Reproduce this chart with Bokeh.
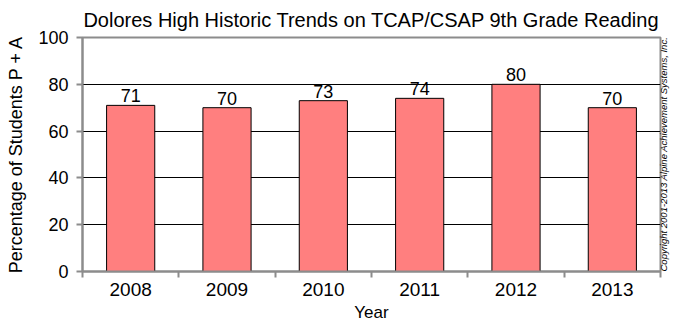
import math
from bokeh.plotting import figure
from bokeh.models import ColumnDataSource, FixedTicker, Range1d, LabelSet, LinearAxis
from bokeh.core.properties import value
from bokeh.embed import file_html
from bokeh.resources import INLINE

years = ["2008", "2009", "2010", "2011", "2012", "2013"]
values = [71, 70, 73, 74, 80, 70]
y_ticks = [0, 20, 40, 60, 80, 100]

xpos = [i + 0.5 for i in range(len(years))]
src = ColumnDataSource(dict(x=xpos, top=values, lbl=[str(v) for v in values]))

FONT = "Liberation Sans"
GRAY = "#8c8c8c"

p = figure(frame_width=578, frame_height=234, output_backend="svg", toolbar_location=None,
           x_range=Range1d(0, len(years)), y_range=Range1d(0, 100),
           min_border_left=82, min_border_top=37, min_border_bottom=58, min_border_right=18)

p.title.text = "Dolores High Historic Trends on TCAP/CSAP 9th Grade Reading"
p.title.text_font = FONT
p.title.text_font_size = "20px"
p.title.text_font_style = "normal"
p.title.text_color = "black"
p.title.align = "center"
p.title.offset = 0
p.title.standoff = 13

p.vbar(x="x", top="top", width=0.5, bottom=0, source=src,
       fill_color="#ff7f7f", line_color="black", line_width=1)

labels = LabelSet(x="x", y="top", text="lbl", source=src, text_align="center",
                  text_baseline="alphabetic", y_offset=3, text_font=value(FONT),
                  text_font_size="18px", text_color="black")
p.add_layout(labels)

p.outline_line_color = GRAY
p.outline_line_width = 2

p.xaxis.ticker = FixedTicker(ticks=xpos, minor_ticks=list(range(len(years) + 1)))
p.xaxis.major_label_overrides = {x: y for x, y in zip(xpos, years)}
p.xaxis.major_tick_line_color = None
p.xaxis.major_tick_in = 0
p.xaxis.major_tick_out = 6
p.xaxis.minor_tick_line_color = GRAY
p.xaxis.minor_tick_line_width = 2
p.xaxis.minor_tick_in = 0
p.xaxis.minor_tick_out = 6
p.xaxis.axis_line_color = GRAY
p.xaxis.axis_line_width = 2
p.xaxis.major_label_text_font = FONT
p.xaxis.major_label_text_font_size = "19px"
p.xaxis.major_label_text_color = "black"
p.xaxis.major_label_standoff = 5
p.xaxis.axis_label = "Year"
p.xaxis.axis_label_text_font = FONT
p.xaxis.axis_label_text_font_size = "17px"
p.xaxis.axis_label_text_font_style = "normal"
p.xaxis.axis_label_text_color = "black"
p.xaxis.axis_label_standoff = 4

p.yaxis.ticker = FixedTicker(ticks=y_ticks)
p.yaxis.minor_tick_line_color = None
p.yaxis.major_tick_line_color = GRAY
p.yaxis.major_tick_line_width = 2
p.yaxis.major_tick_in = 0
p.yaxis.major_tick_out = 6
p.yaxis.axis_line_color = GRAY
p.yaxis.axis_line_width = 2
p.yaxis.major_label_text_font = FONT
p.yaxis.major_label_text_font_size = "18px"
p.yaxis.major_label_text_color = "black"
p.yaxis.major_label_standoff = 8
p.yaxis.axis_label = "Percentage of Students P + A"
p.yaxis.axis_label_text_font = FONT
p.yaxis.axis_label_text_font_size = "18px"
p.yaxis.axis_label_text_font_style = "normal"
p.yaxis.axis_label_text_color = "black"
p.yaxis.axis_label_standoff = 9

p.xgrid.grid_line_color = None
p.ygrid.ticker = FixedTicker(ticks=[20, 40, 60, 80])
p.ygrid.grid_line_color = "black"
p.ygrid.grid_line_width = 1
p.ygrid.level = "underlay"

copy_axis = LinearAxis(ticker=FixedTicker(ticks=[]),
                       axis_label="Copyright 2001-2013 Alpine Achievement Systems, Inc.",
                       axis_label_text_font=FONT, axis_label_text_font_size="9.5px",
                       axis_label_text_font_style="italic", axis_label_text_color="black",
                       axis_label_standoff=3, axis_line_color=None,
                       major_tick_line_color=None, minor_tick_line_color=None)
try:
    copy_axis.axis_label_orientation = math.pi / 2
    copy_axis.axis_label_align = "start"
except Exception:
    pass
p.add_layout(copy_axis, "right")

open("out.html", "w").write(file_html(p, INLINE))
